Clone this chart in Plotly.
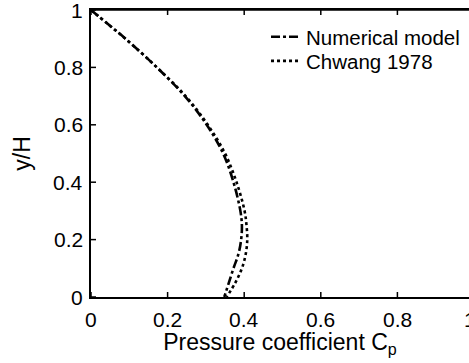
import plotly.graph_objects as go

y_h = [1.0, 0.95, 0.9, 0.8, 0.7, 0.6, 0.5, 0.4, 0.3, 0.25, 0.2, 0.15, 0.1, 0.05, 0.0]
cp_numerical = [0.0, 0.045, 0.09, 0.172, 0.245, 0.302, 0.345, 0.372, 0.39, 0.394, 0.392, 0.385, 0.372, 0.36, 0.348]
cp_chwang = [0.0, 0.045, 0.09, 0.172, 0.247, 0.305, 0.35, 0.38, 0.401, 0.406, 0.408, 0.404, 0.394, 0.377, 0.354]
x_ticks = [0, 0.2, 0.4, 0.6, 0.8, 1]
y_ticks = [0, 0.2, 0.4, 0.6, 0.8, 1]

FONT = "Liberation Sans, Arial, sans-serif"
TICK_SIZE = 21
LW = 1.5
x_max = (469 - 91) / 383.0

fig = go.Figure()
fig.add_trace(go.Scatter(x=cp_numerical, y=y_h, mode="lines", name="Numerical model", legend="legend",
                         line=dict(color="black", width=2.6, dash="dashdot", shape="spline")))
fig.add_trace(go.Scatter(x=cp_chwang, y=y_h, mode="lines", name="Chwang 1978", legend="legend2",
                         line=dict(color="black", width=2.6, dash="dot", shape="spline")))

leg_common = dict(xanchor="left", yanchor="middle", bgcolor="rgba(0,0,0,0)",
                  font=dict(size=20.5))
fig.update_layout(
    template="none",
    width=469, height=363,
    margin=dict(l=91, r=0, t=10, b=66),
    paper_bgcolor="white", plot_bgcolor="white",
    font=dict(family=FONT, color="black", size=20),
    showlegend=True,
    legend=dict(x=0.463, y=0.906, **leg_common),
    legend2=dict(x=0.463, y=0.822, **leg_common),
    xaxis=dict(range=[0, x_max], showticklabels=False, ticks="",
               showline=True, linecolor="black", linewidth=LW, mirror=True,
               showgrid=False, zeroline=False, automargin=False,
               title=dict(text="Pressure coefficient C<sub>p</sub>", font=dict(size=23), standoff=36)),
    yaxis=dict(range=[0, 1], showticklabels=False, ticks="",
               showline=True, linecolor="black", linewidth=LW, mirror=False,
               showgrid=False, zeroline=False, automargin=False,
               title=dict(text="y/H", font=dict(size=23), standoff=52)),
)

# top frame line (mirror of x axis)
fig.add_shape(type="line", xref="paper", yref="paper", x0=0, x1=1, y0=1, y1=1,
              line=dict(color="black", width=LW))

# x ticks (bottom and top, inside) and labels
for v in x_ticks:
    for anchor, sign in ((0, 1), (1, -1)):
        fig.add_shape(type="line", xref="x", yref="paper", ysizemode="pixel", yanchor=anchor,
                      x0=v, x1=v, y0=0, y1=5 * sign, line=dict(color="black", width=LW))
    fig.add_annotation(x=v / x_max, y=0, xref="paper", yref="paper", text=f"{v:g}",
                       showarrow=False, xanchor="center", yanchor="top", yshift=-9,
                       xshift=-4 if v == 1 else 0,
                       font=dict(size=TICK_SIZE))

# y ticks (inside) and labels
for v in y_ticks:
    fig.add_shape(type="line", xref="paper", yref="y", xsizemode="pixel", xanchor=0,
                  x0=0, x1=5, y0=v, y1=v, line=dict(color="black", width=LW))
    fig.add_annotation(x=0, y=v, xref="paper", yref="y", text=f"{v:g}",
                       showarrow=False, xanchor="right", yanchor="middle", xshift=-6,
                       font=dict(size=TICK_SIZE))

fig.write_html("out.html")
